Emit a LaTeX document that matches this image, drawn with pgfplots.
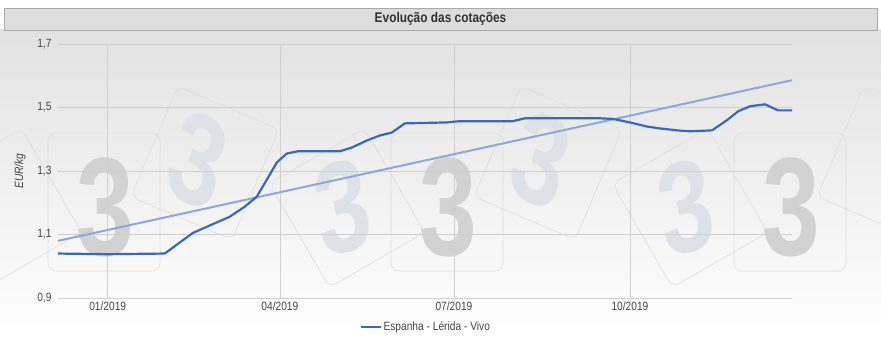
\documentclass[border=0pt]{standalone}
\usepackage{fontspec}
\setmainfont{Liberation Sans}[FakeStretch=0.85]
\newfontfamily\wmfont{Liberation Sans Bold}
\usepackage{pgfplots}
\pgfplotsset{compat=1.18}
\definecolor{serie}{RGB}{58,103,194}
\definecolor{trend}{RGB}{143,167,218}
\definecolor{gridc}{RGB}{208,208,208}
\definecolor{txt}{RGB}{70,70,70}
\definecolor{titlebg}{RGB}{221,221,221}
\definecolor{titlebd}{RGB}{170,170,170}
\definecolor{bgtop}{RGB}{226,226,226}
\definecolor{wmgray}{RGB}{210,210,210}
\definecolor{wmblue}{RGB}{221,225,232}
\definecolor{wmline}{RGB}{222,222,222}
\begin{document}
\begin{tikzpicture}[x=1pt,y=1pt]
\path[use as bounding box] (0,0) rectangle (881,337);
\shade[top color=bgtop, bottom color=white] (0,0) rectangle (881,307);
\begin{scope}
\clip (0,0) rectangle (881,306);
\foreach \o in {0,343,686}{
  \draw[wmline, line width=0.6pt, rounded corners=8pt] ({104+\o-56},{135-69}) rectangle ({104+\o+56},{135+69});
  \node[text=wmgray, font=\wmfont\fontsize{140}{140}\selectfont, xscale=0.74, inner sep=0pt] at ({105+\o},130) {3};
}
\foreach \o in {0,343}{
  \draw[wmline, line width=0.6pt, rounded corners=8pt, rotate around={-23:({205+\o},174)}] ({205+\o-55},{174-60}) rectangle ({205+\o+55},{174+60});
  \node[text=wmblue, font=\wmfont\fontsize{130}{130}\selectfont, xscale=0.74, rotate=-20, inner sep=0pt] at ({198+\o},177) {3};
  \draw[wmline, line width=0.6pt, rounded corners=8pt, rotate around={30:({347+\o},129)}] ({347+\o-55},{129-60}) rectangle ({347+\o+55},{129+60});
  \node[text=wmblue, font=\wmfont\fontsize{130}{130}\selectfont, xscale=0.74, rotate=12, inner sep=0pt] at ({343+\o},130) {3};
}
\draw[wmline, line width=0.6pt, rounded corners=8pt, rotate around={-23:(891,174)}] (836,114) rectangle (946,234);
\draw[wmline, line width=0.6pt, rounded corners=8pt, rotate around={30:(4,129)}] (-51,69) rectangle (59,189);
\end{scope}
\filldraw[fill=titlebg, draw=titlebd] (4,307) rectangle (877,329);
\node[font=\bfseries\fontsize{14}{16}\selectfont, text=black!80] at (440.5,318) {Evolução das cotações};
\begin{axis}[
  at={(58pt,39pt)}, anchor=south west,
  scale only axis, width=734pt, height=254pt,
  xmin=-26, xmax=357.7, ymin=0.9, ymax=1.7,
  xtick={0,90,181,273},
  xticklabels={01/2019,04/2019,07/2019,10/2019},
  ytick={0.9,1.1,1.3,1.5,1.7},
  /pgf/number format/fixed,
  /pgf/number format/fixed zerofill,
  /pgf/number format/precision=1,
  /pgf/number format/use comma,
  /pgf/number format/assume math mode=true,
  xticklabel style={font=\fontsize{12}{14}\selectfont, text=txt},
  yticklabel style={font=\fontsize{12}{14}\selectfont, text=txt, xshift=-3pt},
  grid=major,
  major grid style={draw=gridc, line width=0.8pt},
  axis line style={draw=none},
  major tick length=0pt,
  ylabel={EUR/kg},
  ylabel style={at={(axis description cs:-0.0518,0.5)}, anchor=center, font=\itshape\fontsize{12}{14}\selectfont, text=txt},
  legend style={at={(axis description cs:0.501,-0.114)}, anchor=center, draw=none, fill=none, font=\fontsize{12}{14}\selectfont, text=txt},
  legend image code/.code={\draw[#1, line width=2pt] (0,0)--(20pt,0);},
  clip=false,
]
\addplot[trend, line width=2pt, forget plot] coordinates {(-26,1.08) (357.7,1.586)};
\addplot[serie, line width=2.2pt, line join=round] coordinates {
(-26.1,1.040) (0,1.038) (29.8,1.040) (44.5,1.105) (63.8,1.156) (71.7,1.188)
(77.9,1.219) (83.2,1.273) (88.4,1.327) (93.6,1.355) (99.4,1.362) (121.3,1.362)
(127.6,1.374) (135.5,1.396) (142.3,1.412) (148.5,1.421) (155.3,1.450) (177.3,1.453)
(184.1,1.457) (211.8,1.457) (218.1,1.466) (257.3,1.466) (264.1,1.464) (273,1.453)
(281.9,1.440) (288.7,1.434) (297.6,1.428) (304.4,1.425) (315.9,1.428) (323.7,1.460)
(329.5,1.488) (335.8,1.504) (343.6,1.510) (350.4,1.491) (357.7,1.491)};
\addlegendentry{Espanha - Lérida - Vivo}
\end{axis}
\end{tikzpicture}
\end{document}
